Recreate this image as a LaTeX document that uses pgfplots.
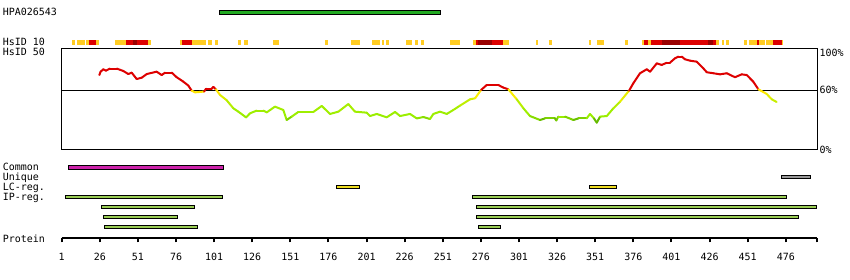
\documentclass[border=0pt]{standalone}
\usepackage{pgfplots}
\pgfplotsset{compat=1.18}
\usepackage{fontspec}
\setmainfont{DejaVu Sans Mono}
\definecolor{hyel}{RGB}{255,204,34}
\definecolor{hred}{RGB}{221,0,0}
\definecolor{hdred}{RGB}{153,0,0}
\definecolor{agreen}{RGB}{34,170,34}
\definecolor{cmag}{RGB}{204,34,170}
\definecolor{ugray}{RGB}{153,153,153}
\definecolor{lcyel}{RGB}{238,221,34}
\definecolor{ipgreen}{RGB}{153,204,85}
\newcommand{\lbl}{\fontsize{10}{12}\selectfont}
\newcommand{\featbar}[5]{\addplot[fill=#1,draw=black,line width=1bp] coordinates {(#2,#4) (#3,#4) (#3,#5) (#2,#5)} -- cycle;}
\begin{document}
\begin{tikzpicture}
% ---------- canvas axis: x = residue, y = pixel row from top ----------
\begin{axis}[at={(0bp,0bp)}, anchor=south west, scale only axis,
  width=850bp, height=280bp, xmin=-39.48, xmax=518.19, ymin=0, ymax=280,
  y dir=reverse, hide axis, clip=false]
% antigen
\featbar{agreen}{104.4}{249.7}{10.6}{14.4}
% HsID 10 track
\addplot[hyel, line width=5bp, unbounded coords=jump] coordinates {
(7.8,42.2)(9.7,42.2)(nan,nan)(11.0,42.2)(16.3,42.2)(nan,nan)(16.9,42.2)(18.9,42.2)(nan,nan)
(23.5,42.2)(25.5,42.2)(nan,nan)(36.0,42.2)(43.2,42.2)(nan,nan)(57.6,42.2)(59.6,42.2)(nan,nan)
(78.6,42.2)(79.9,42.2)(nan,nan)(86.5,42.2)(95.7,42.2)(nan,nan)(97.0,42.2)(99.6,42.2)(nan,nan)
(101.6,42.2)(103.5,42.2)(nan,nan)(116.7,42.2)(118.6,42.2)(nan,nan)(120.6,42.2)(123.2,42.2)(nan,nan)
(139.6,42.2)(143.6,42.2)(nan,nan)(173.7,42.2)(175.7,42.2)(nan,nan)(190.8,42.2)(196.7,42.2)(nan,nan)
(204.6,42.2)(209.8,42.2)(nan,nan)(211.1,42.2)(212.5,42.2)(nan,nan)(213.8,42.2)(215.7,42.2)(nan,nan)
(226.9,42.2)(230.8,42.2)(nan,nan)(232.8,42.2)(234.8,42.2)(nan,nan)(236.7,42.2)(238.7,42.2)(nan,nan)
(255.8,42.2)(262.3,42.2)(nan,nan)(270.8,42.2)(272.8,42.2)(nan,nan)(290.5,42.2)(294.5,42.2)(nan,nan)
(312.2,42.2)(313.5,42.2)(nan,nan)(320.7,42.2)(322.7,42.2)(nan,nan)(347.0,42.2)(348.3,42.2)(nan,nan)
(352.2,42.2)(356.8,42.2)(nan,nan)(370.6,42.2)(372.5,42.2)(nan,nan)(381.7,42.2)(383.0,42.2)(nan,nan)
(385.7,42.2)(387.6,42.2)(nan,nan)(430.3,42.2)(432.2,42.2)(nan,nan)(434.2,42.2)(435.5,42.2)(nan,nan)
(436.8,42.2)(438.8,42.2)(nan,nan)(448.6,42.2)(450.6,42.2)(nan,nan)(451.9,42.2)(457.2,42.2)(nan,nan)
(458.5,42.2)(462.4,42.2)(nan,nan)(463.1,42.2)(467.7,42.2)(nan,nan)(473.6,42.2)(474.2,42.2)};
\addplot[hred, line width=5bp, unbounded coords=jump] coordinates {
(18.9,42.2)(23.5,42.2)(nan,nan)(43.2,42.2)(47.8,42.2)(nan,nan)(50.4,42.2)(57.6,42.2)(nan,nan)
(79.9,42.2)(86.5,42.2)(nan,nan)(272.8,42.2)(274.1,42.2)(nan,nan)(283.3,42.2)(290.5,42.2)(nan,nan)
(383.0,42.2)(385.7,42.2)(nan,nan)(387.6,42.2)(394.8,42.2)(nan,nan)(406.7,42.2)(425.0,42.2)(nan,nan)
(428.3,42.2)(430.3,42.2)(nan,nan)(457.2,42.2)(458.5,42.2)(nan,nan)(467.7,42.2)(473.6,42.2)};
\addplot[hdred, line width=5bp, unbounded coords=jump] coordinates {
(47.8,42.2)(50.4,42.2)(nan,nan)(274.1,42.2)(283.3,42.2)(nan,nan)(394.8,42.2)(406.7,42.2)(nan,nan)
(425.0,42.2)(428.3,42.2)};
% feature bars
\featbar{cmag}{5.3}{107.0}{165.8}{169.2}
\featbar{ugray}{473.1}{492.4}{175.8}{178.8}
\featbar{lcyel}{181.2}{196.5}{185.8}{188.8}
\featbar{lcyel}{347.2}{365.1}{185.8}{188.8}
\featbar{ipgreen}{3.4}{106.6}{195.8}{198.8}
\featbar{ipgreen}{270.4}{476.7}{195.8}{198.8}
\featbar{ipgreen}{27.0}{88.2}{205.8}{208.8}
\featbar{ipgreen}{273.0}{496.3}{205.8}{208.8}
\featbar{ipgreen}{28.5}{77.1}{215.8}{218.8}
\featbar{ipgreen}{273.0}{484.5}{215.8}{218.8}
\featbar{ipgreen}{29.0}{90.2}{225.8}{228.8}
\featbar{ipgreen}{274.3}{288.8}{225.8}{228.8}
\end{axis}
% ---------- similarity curve ----------
\begin{axis}[at={(61.7bp,130bp)}, anchor=south west, scale only axis,
  width=755.6bp, height=101.7bp, xmin=1, xmax=496.7, ymin=0, ymax=102.7,
  xtick=\empty, ytick=\empty, axis line style={line width=1bp},
  point meta min=0, point meta max=100,
  colormap={hpa}{rgb255(0cm)=(85,170,0) rgb255(31cm)=(102,187,0) rgb255(33cm)=(153,238,0)
    rgb255(41cm)=(160,238,0) rgb255(51cm)=(204,238,0) rgb255(57cm)=(255,238,0)
    rgb255(59.9cm)=(255,225,0) rgb255(60cm)=(221,0,0) rgb255(100cm)=(221,0,0)}]
\addplot[black, line width=1bp] coordinates {(1,60) (496.7,60)};
\addplot[mesh, point meta=y, line width=2bp, line cap=round] coordinates {
(25.7,75.7)(26.5,79.1)(28.3,81.5)(30,80.1)(32.7,82.2)(37.1,82.2)(41.4,79.8)(44.7,76.7)(46.9,78.1)
(50.2,71.7)(53.5,73.0)(56.8,76.7)(63.3,79.1)(66.6,75.7)(68.8,78.1)(73.2,78.1)(76.4,73.5)
(80.8,69.0)(84.1,65.0)(86.3,59.9)(88.5,58.2)(94.4,59.0)(95.7,61.9)(99.4,61.9)(100.5,63.7)
(102.2,61.2)(104.9,55.5)(109.2,50.3)(113.6,42.1)(116.9,38.7)(121.3,33.7)(122,32.9)(124.5,37.0)
(128.9,39.8)(133.3,39.8)(135.5,38.0)(140.9,43.8)(146.4,40.4)(148.6,30.3)(151.9,33.7)
(156.2,38.4)(166.1,38.4)(171.6,44.5)(177,36.4)(182.5,38.7)(189,46.4)(193.4,38.7)
(201.1,37.7)(203.3,34.3)(207.7,36.4)(214.2,33.0)(219.7,38.4)(223,34.3)(229.5,36.4)
(233.9,31.9)(238.3,33.3)(242.6,31.3)(244.8,36.4)(249.2,38.7)(253.6,36.4)(257.9,40.4)
(262.3,44.8)(268.9,51.2)(272.2,52.2)(276.1,60.6)(279.8,65.6)(287.5,65.6)(290.7,63.0)
(294,61.3)(299.5,51.2)(303.9,42.1)(308.2,34.3)(314.8,30.3)(318.1,31.9)(324.6,31.9)
(325.5,29.8)(326.8,33.7)(331.2,33.7)(336.7,30.3)(340,31.9)(345.4,31.9)(347.6,36.4)
(350.2,31.9)(352,27.6)(354.2,33.7)(358.6,34.3)(362.9,42.1)(367.3,48.8)(373.2,59.9)
(376,67.4)(380.4,77.5)(384.8,81.5)(387,79.1)(391.4,87.5)(394.6,85.9)(397.9,88.1)(400,88.1)
(403.4,92.7)(405.6,94.3)(407.8,94.3)(409.9,91.6)(413.2,90.2)(417.6,89.2)(421.9,82.5)
(424.2,78.5)(428.5,77.5)(432.9,76.4)(437.3,77.5)(442.7,73.5)(447.1,76.4)(450.4,75.7)
(454.7,69.0)(458,61.3)(463.5,56.6)(466.8,51.2)(470,48.5)};
\end{axis}
% ---------- protein ruler ----------
\begin{axis}[at={(61.7bp,41.7bp)}, anchor=south west, scale only axis,
  width=755.6bp, height=10bp, xmin=1, xmax=496.7, ymin=0, ymax=1,
  axis x line=bottom, axis y line=none, x axis line style={-, line width=2bp},
  xtick={1,26,...,476}, extra x ticks={496.3}, extra x tick labels={},
  tick align=outside, major tick length=4bp,
  every tick/.style={black, line width=2bp},
  xticklabel style={font=\lbl, anchor=base, yshift=-17.7bp},
  /pgf/number format/assume math mode=true]
\addplot[draw=none] coordinates {(1,0) (496.7,0)};
\end{axis}
% ---------- labels ----------
\begin{scope}[every node/.style={inner sep=0pt, font=\lbl}]
\node[anchor=base west] at (2.7bp,264bp) {HPA026543};
\node[anchor=base west] at (2.7bp,234.3bp) {HsID 10};
\node[anchor=base west] at (2.7bp,224bp) {HsID 50};
\node[anchor=base west] at (2.7bp,109bp) {Common};
\node[anchor=base west] at (2.7bp,99bp) {Unique};
\node[anchor=base west] at (2.7bp,89bp) {LC-reg.};
\node[anchor=base west] at (2.7bp,79bp) {IP-reg.};
\node[anchor=base west] at (2.7bp,37.7bp) {Protein};
\node[anchor=base west] at (819.3bp,223.3bp) {100\%};
\node[anchor=base west] at (819.3bp,186bp) {60\%};
\node[anchor=base west] at (819.3bp,126.7bp) {0\%};
\end{scope}
\pgfresetboundingbox
\path[use as bounding box] (0bp,0bp) rectangle (850bp,280bp);
\end{tikzpicture}
\end{document}
